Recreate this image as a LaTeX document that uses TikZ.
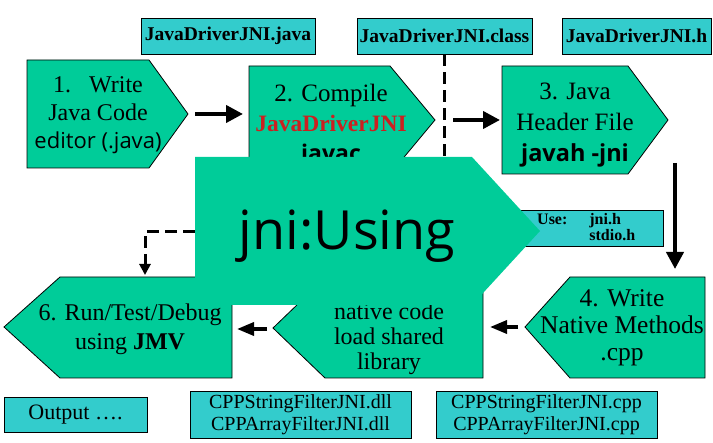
\documentclass[tikz,border=0pt]{standalone}
\usepackage{fontspec}
\setmainfont{Liberation Serif}
\newfontfamily\uisans{Open Sans}
\usetikzlibrary{arrows.meta}

\definecolor{jnigreen}{RGB}{0,204,153}
\definecolor{filecyan}{RGB}{51,204,204}
\definecolor{jnired}{RGB}{204,32,32}

\tikzset{
  stepshape/.style={fill=jnigreen, draw=black, line width=0.8pt},
  filebox/.style={rectangle, fill=filecyan, draw=black, line width=0.8pt,
    inner sep=0pt, font=\bfseries\fontsize{19.5}{21}\selectfont},
  steptext/.style={align=center, inner sep=0pt},
  flow/.style={line width=4pt, -{Triangle[length=17pt,width=17pt]}},
  dashflow/.style={line width=3pt, dash pattern=on 12pt off 6pt},
}

\begin{document}
\begin{tikzpicture}[x=1pt,y=-1pt]

% ---------- Rahmen (713 x 443) ----------
\useasboundingbox (0,0) rectangle (713,443);

% Eckpunkte der grossen Form
\coordinate (big-nw) at (195,157);
\coordinate (big-w)  at (195,232);

% ===================
% oben: Dateien
% ===================
\node[filebox, minimum width=174pt, minimum height=36pt] (javafile)  at (228,36)   {JavaDriverJNI.java};
\node[filebox, minimum width=175pt, minimum height=36pt] (classfile) at (444.5,36) {JavaDriverJNI.class};
\node[filebox, minimum width=149pt, minimum height=36pt] (hfile)     at (636.5,36) {JavaDriverJNI.h};

% ===================
% Schritte 1 - 3
% ===================
\draw[stepshape] (27,60) -- (149,60) -- (188,114) -- (149,168) -- (27,168) -- cycle;
\coordinate (write-tip) at (188,114);
\node[steptext, font=\fontsize{24}{28}\selectfont] (write) at (98,115)
  {1.\ \ \ Write\\Java Code\\{\uisans\fontsize{22}{28}\selectfont editor (.java)}};

\draw[stepshape] (249,66) -- (390,66) -- (435,120) -- (390,174) -- (249,174) -- cycle;
\coordinate (compile-w)   at (249,114);
\coordinate (compile-tip) at (435,120);
\node[steptext, font=\fontsize{25}{30}\selectfont] (compile) at (331,126)
  {2. Compile\\{\color{jnired}\bfseries\fontsize{23.5}{30}\selectfont JavaDriverJNI}\\{\uisans\bfseries\fontsize{23}{30}\selectfont javac}};

\draw[dashflow] (classfile.south) -- (classfile.south |- big-nw);

\draw[stepshape] (502,66) -- (628,66) -- (668,120) -- (628,174) -- (502,174) -- cycle;
\coordinate (header-w) at (502,120);
\coordinate (header-s) at (675,163);
\node[steptext, font=\fontsize{25}{31}\selectfont] (header) at (575,125)
  {3. Java\\Header File\\{\uisans\bfseries\fontsize{23.5}{31}\selectfont javah -jni}};

% Use-Kasten
\node[filebox, minimum width=143pt, minimum height=36pt] (usebox) at (591.5,228.5) {};
\node[anchor=north west, inner sep=0pt, font=\bfseries\fontsize{16}{16}\selectfont] (usetext) at (537,213.5)
  {\begin{tabular}{@{}l@{\hspace{22pt}}l@{}}Use: & jni.h\\ & stdio.h\end{tabular}};

% ===================
% Schritte 4 - 6
% ===================
\draw[stepshape] (705,277) -- (570,277) -- (525,327) -- (570,378) -- (705,378) -- cycle;
\coordinate (native-n)   at (675,277);
\coordinate (native-tip) at (525,327);
\node[steptext, font=\fontsize{25.5}{27}\selectfont] (native) at (622,328)
  {4. Write\\Native Methods\\.cpp};

\draw[stepshape] (483,278) -- (325,278) -- (273,328) -- (325,378) -- (483,378) -- cycle;
\coordinate (load-e)   at (483,327);
\coordinate (load-tip) at (273,329);
\node[steptext, font=\fontsize{24}{25}\selectfont] (load) at (389,339)
  {native code\\load shared\\library};

\draw[stepshape] (232,277) -- (60,277) -- (4,327) -- (60,378) -- (232,378) -- cycle;
\coordinate (run-e) at (232,329);
\coordinate (run-n) at (145,277);
\node[steptext, font=\fontsize{24}{29}\selectfont] (run) at (130,329)
  {6. Run/Test/Debug\\using \textbf{JMV}};

% ---------- Pfeile ----------
\draw[flow] (write-tip) -- (compile-w) [shorten <=7pt, shorten >=6pt];
\draw[flow] (compile-tip) -- (header-w) [shorten <=18pt, shorten >=2pt];
\draw[flow] (header-s) -- (native-n) [shorten >=8pt];
\draw[flow, line width=3.5pt, -{Triangle[length=17pt,width=13pt]}] (native-tip) -- (load-e) [shorten <=7pt, shorten >=7pt];
\draw[flow, line width=3.5pt, -{Triangle[length=17pt,width=13pt]}] (load-tip) -- (run-e) [shorten <=6pt, shorten >=5pt];
\draw[dashflow, -{Triangle[length=11pt,width=11pt]}] (big-w) -- (big-w -| run-n) -- (run-n) [shorten >=2pt];

% ===================
% unten: Ergebnisse
% ===================
\node[filebox, font=\fontsize{22}{24}\selectfont, minimum width=143pt, minimum height=35pt] (output) at (75.5,414.5) {Output ….};
\node[filebox, font=\fontsize{20}{22}\selectfont, align=center, minimum width=221pt, minimum height=47pt] (dllfile) at (300.5,414.5)
  {CPPStringFilterJNI.dll\\CPPArrayFilterJNI.dll};
\node[filebox, font=\fontsize{20}{22}\selectfont, align=center, minimum width=221pt, minimum height=47pt] (cppfile) at (546.5,414.5)
  {CPPStringFilterJNI.cpp\\CPPArrayFilterJNI.cpp};

% ---------- grosse Form oben drauf ----------
\fill[jnigreen] (big-nw) -- (472,157) -- (540,231) -- (472,305) -- (195,305) -- cycle;
\node[anchor=base, inner sep=0pt, font=\uisans\fontsize{54}{60}\selectfont] (using) at (347,250) {jni:Using};

\end{tikzpicture}
\end{document}
